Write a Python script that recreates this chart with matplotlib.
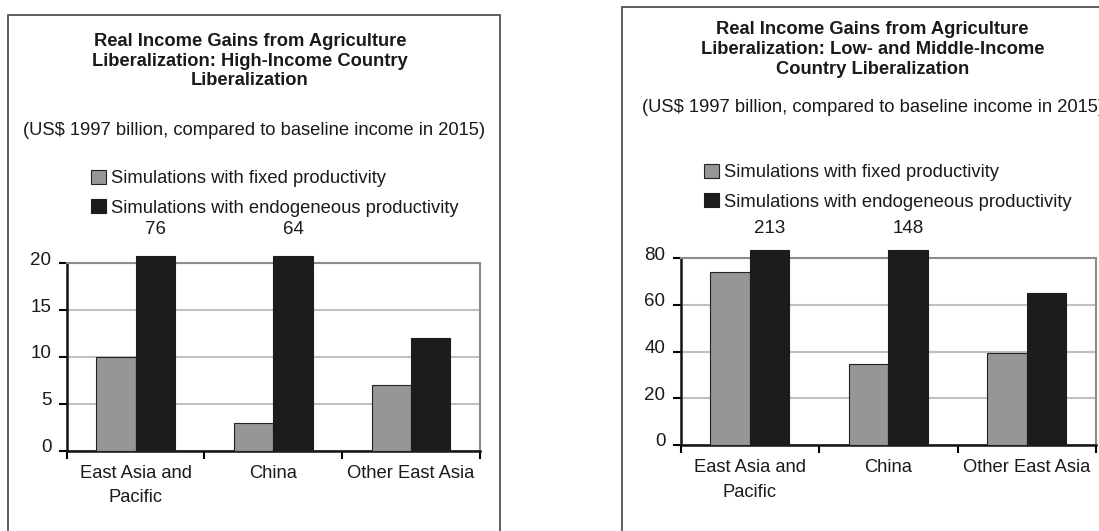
import matplotlib

matplotlib.use("Agg")
import matplotlib.pyplot as plt
import numpy as np
from matplotlib.patches import Rectangle
from matplotlib.transforms import ScaledTranslation

plt.rcParams["font.family"] = ["Liberation Sans", "DejaVu Sans"]

# Data.
regions = ["East Asia and\nPacific", "China", "Other East Asia"]
series_names = [
    "Simulations with fixed productivity",
    "Simulations with endogeneous productivity",
]
high_fixed = [10, 3, 7]
high_endo = [76, 64, 12]
low_fixed = [74, 34.5, 39.5]
low_endo = [213, 148, 65]

high_title = "Real Income Gains from Agriculture\nLiberalization: High-Income Country\nLiberalization"
low_title = "Real Income Gains from Agriculture\nLiberalization: Low- and Middle-Income\nCountry Liberalization"
subtitle = "(US$ 1997 billion, compared to baseline income in 2015)"

GREY = "#969696"
BLACK = "#1c1c1c"
TXT = "#1a1a1a"
W, H = 1099, 531


def fx(px):
    return px / W


def fy(py):
    return 1 - py / H


def draw_panel(fig, box, fixed, endo, ymax, ystep, cap, label_gap):
    x0, x1, y0, y1 = box
    ax = fig.add_axes([fx(x0), fy(y0), fx(x1 - x0), (y0 - y1) / H])
    x = np.arange(len(regions))
    w = 0.285
    fixed = np.asarray(fixed, dtype=float)
    endo = np.asarray(endo, dtype=float)
    ax.bar(x - w / 2, np.minimum(fixed, cap), w, color=GREY, edgecolor="#222222",
           linewidth=0.8, clip_on=False, zorder=3, label=series_names[0])
    ax.bar(x + w / 2, np.minimum(endo, cap), w, color=BLACK, edgecolor=BLACK,
           linewidth=0.8, clip_on=False, zorder=3, label=series_names[1])
    # values off the scale are written above the truncated bar
    for xi, v in zip(x, endo):
        if v > cap:
            ax.annotate(f"{v:g}", (xi + w / 2, cap), xytext=(0, label_gap),
                        textcoords="offset points", ha="center", va="center",
                        fontsize=13.5, color=TXT, annotation_clip=False)

    ax.set_xlim(-0.5, len(regions) - 0.5)
    ax.set_ylim(0, ymax)
    ax.set_yticks(np.arange(0, ymax + 1, ystep))
    ax.yaxis.grid(True, color="#c0c0c0", linewidth=1.5, zorder=0)
    ax.set_axisbelow(True)
    ax.set_xticks(np.arange(len(regions) + 1) - 0.5)
    ax.set_xticklabels([])
    ax.set_xticks(x, minor=True)
    ax.set_xticklabels(regions, minor=True, fontsize=13.2, color=TXT, linespacing=1.6)
    ax.tick_params(axis="x", which="major", direction="out", length=6, width=1.5)
    ax.tick_params(axis="x", which="minor", length=0, pad=10)
    ax.tick_params(axis="y", direction="out", length=6, width=1.5, pad=5,
                   labelsize=13.5, labelcolor=TXT)
    for lab in ax.get_yticklabels():
        lab.set_transform(lab.get_transform() + ScaledTranslation(0, 5 / 100, fig.dpi_scale_trans))
    for side in ("left", "bottom"):
        ax.spines[side].set_linewidth(1.8)
        ax.spines[side].set_color("#111111")
    for side in ("top", "right"):
        ax.spines[side].set_linewidth(1.5)
        ax.spines[side].set_color("#8c8c8c")
    return ax


fig = plt.figure(figsize=(W / 100, H / 100), dpi=100)

# panel frames
fig.patches.append(Rectangle((fx(7.5), -0.1), fx(500 - 7.5), fy(15) + 0.1, transform=fig.transFigure,
                             fill=False, edgecolor="#444444", linewidth=1.2))
fig.patches.append(Rectangle((fx(622), -0.1), 0.5, fy(7) + 0.1, transform=fig.transFigure,
                             fill=False, edgecolor="#444444", linewidth=1.2))

ax1 = draw_panel(fig, (66.7, 480, 450.7, 263.3), high_fixed, high_endo, 20, 5, 20.75, 19)
ax2 = draw_panel(fig, (680.7, 1096, 445, 258), low_fixed, low_endo, 80, 20, 83.5, 15.5)

fig.text(fx(250), fy(61), high_title, ha="center", va="center", fontsize=13.2, fontweight="bold",
         color=TXT, linespacing=1.22)
fig.text(fx(872.5), fy(49.5), low_title, ha="center", va="center", fontsize=13.2, fontweight="bold",
         color=TXT, linespacing=1.22)
fig.text(fx(254), fy(130.7), subtitle, ha="center", va="center", fontsize=13.2, color=TXT)
fig.text(fx(641.7), fy(107.7), subtitle, ha="left", va="center", fontsize=13.2, color=TXT)

for ax, lx, ly in ((ax1, 91, 193.3), (ax2, 704, 187.3)):
    ax.legend(loc="center left", bbox_to_anchor=(fx(lx), fy(ly)), bbox_transform=fig.transFigure,
              frameon=False, fontsize=13.2, borderpad=0, borderaxespad=0, handlelength=0.8,
              handleheight=0.8, handletextpad=0.3, labelspacing=0.65, labelcolor=TXT)

fig.savefig("out.png", dpi=100)
